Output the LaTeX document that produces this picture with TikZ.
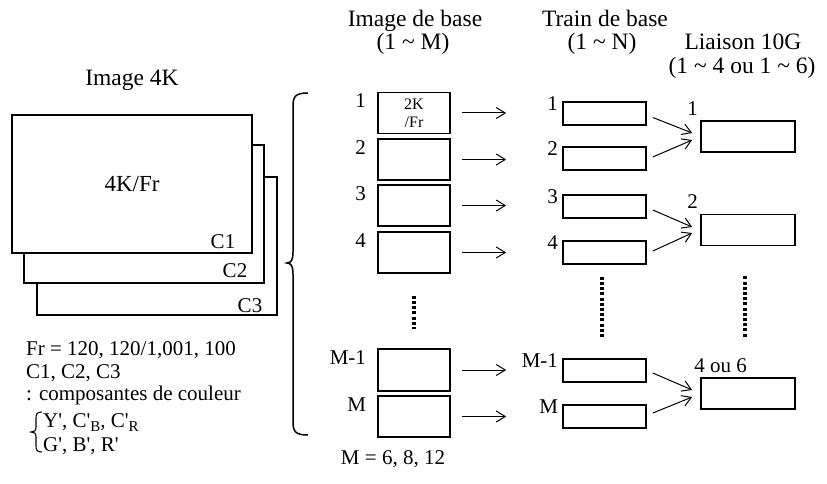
\documentclass[tikz,border=0pt]{standalone}
\usepackage{fontspec}
\setmainfont{Liberation Serif}
\usetikzlibrary{arrows.meta}
\newcommand{\qs}{\textquotesingle}
\newcommand{\subl}[1]{\raisebox{-4.5pt}{\fontsize{15}{15}\selectfont #1}}
\begin{document}
\begin{tikzpicture}[x=1pt,y=-1pt,
  txt/.style={inner sep=0pt, font=\fontsize{21}{24}\selectfont},
  ttl/.style={inner sep=0pt, font=\fontsize{23.5}{26}\selectfont},
  lay/.style={draw, line width=1.5pt, fill=white, minimum width=240pt, minimum height=138pt, inner sep=0pt},
  box/.style={draw, line width=1.7pt, inner sep=0pt},
  abox/.style={box, minimum width=72pt, minimum height=41pt},
  bbox/.style={box, minimum width=83pt, minimum height=23pt},
  cbox/.style={box, minimum width=94pt, minimum height=31pt},
  arr/.style={line width=1pt, -{Straight Barb[length=9pt,width=11pt]}},
  dots/.style={line width=3.3pt, dash pattern=on 3pt off 2.2pt},
]
\useasboundingbox (0,0) rectangle (827,484);

% stacked 4K image layers
\node[lay] (r3) at (157,246) {};
\node[lay] (r2) at (144,214) {};
\node[lay] (r1) at (132,184) {};
\node[ttl, anchor=base] (t4k) at (132,86) {Image 4K};
\node[txt, anchor=base, font=\fontsize{23}{26}\selectfont] (t4kfr) at (132,191) {4K/Fr};
\node[txt, anchor=base] (tc1) at (223,248) {C1};
\node[txt, anchor=base] (tc2) at (235,277) {C2};
\node[txt, anchor=base] (tc3) at (250,312) {C3};

% notes
\node[txt, anchor=base west] (n1) at (26,355) {Fr = 120, 120/1,001, 100};
\node[txt, anchor=base west] (n2) at (26,378) {C1, C2, C3};
\node[txt, anchor=base west] (n3) at (26,400) {: composantes de couleur};
\node[txt, anchor=base west] (n4) at (43,427) {Y\qs, C\qs\subl{B}, C\qs\subl{R}};
\node[txt, anchor=base west] (n5) at (43,451) {G\qs, B\qs, R\qs};
\draw[line width=1.1pt] (42,412) .. controls (37,412) and (36,414) .. (36,418) -- (36,427)
  .. controls (36,431) and (34,432) .. (31,432) .. controls (34,432) and (36,433) .. (36,437)
  -- (36,446) .. controls (36,450) and (37,452) .. (42,452);

% big brace
\draw[line width=1.5pt] (308,93) .. controls (296,93) and (293,96) .. (293,106) -- (293,252)
  .. controls (293,260) and (291,263) .. (287,263) .. controls (291,263) and (293,266) .. (293,274)
  -- (293,422) .. controls (293,432) and (296,435) .. (308,435);

% titles
\node[ttl, anchor=base] (h1a) at (415,27) {Image de base};
\node[ttl, anchor=base] (h1b) at (413,50) {(1 \textasciitilde{} M)};
\node[ttl, anchor=base] (h2a) at (605,27) {Train de base};
\node[ttl, anchor=base] (h2b) at (602,50) {(1 \textasciitilde{} N)};
\node[ttl, anchor=base] (h3a) at (743,50) {Liaison 10G};
\node[ttl, anchor=base] (h3b) at (742,74) {(1 \textasciitilde{} 4 ou 1 \textasciitilde{} 6)};

% column 1: base images
\node[abox, align=center, font=\fontsize{16}{18}\selectfont] (a1) at (414,113) {2K\\/Fr};
\node[abox] (a2) at (414,159.5) {};
\node[abox] (a3) at (414,205.5) {};
\node[abox] (a4) at (414,252.5) {};
\node[abox, minimum height=42pt] (aM1) at (414,370) {};
\node[abox] (aM) at (414,416.5) {};
\foreach \n/\t in {a1/1,a2/2,a3/3,a4/4,aM1/M-1,aM/M}
  \node[txt, anchor=base east] (l\n) at ([shift={(-11,16)}]\n.north west) {\t};
\draw[dots, shorten <=22pt, shorten >=19pt] (a4.south) -- (aM1.north);
\node[txt, anchor=base] (mval) at (393,464) {M = 6, 8, 12};

% column 2: base trains
\node[bbox] (b1) at (604.5,113.5) {};
\node[bbox] (b2) at (604.5,158.5) {};
\node[bbox] (b3) at (604.5,206.5) {};
\node[bbox] (b4) at (604.5,252.5) {};
\node[bbox] (bM1) at (604.5,370.5) {};
\node[bbox] (bM) at (604.5,416.5) {};
\foreach \n/\t in {b1/1,b2/2,b3/3,b4/4,bM1/M-1,bM/M}
  \node[txt, anchor=base east] (l\n) at ([shift={(-4,9.5)}]\n.north west) {\t};
\draw[dots, shorten <=12pt, shorten >=21pt] (b4.south -| 602,0) -- (bM1.north -| 602,0);

% column 3: 10G links
\node[cbox] (c1) at (748,136.5) {};
\node[cbox] (c2) at (748,230) {};
\node[cbox] (c3) at (748,393.5) {};
\node[txt, anchor=base west] (lc1) at ([shift={(-13,-5)}]c1.north west) {1};
\node[txt, anchor=base west] (lc2) at ([shift={(-13,-5)}]c2.north west) {2};
\node[txt, anchor=base west] (lc3) at ([shift={(-6,-5)}]c3.north west) {4 ou 6};
\draw[dots, shorten <=30pt, shorten >=40pt] (c2.south -| 745,0) -- (c3.north -| 745,0);

% arrows column 1 -> column 2
\foreach \i in {1,2,3,4,M1,M}
  \draw[arr, shorten <=11pt, shorten >=56pt] (a\i.east) -- (a\i.east -| b\i.west);

% arrows column 2 -> column 3
\draw[arr] ([shift={(6,4)}]b1.east) -- ([shift={(-8,-3.5)}]c1.west);
\draw[arr] ([shift={(6,-1.5)}]b2.east) -- ([shift={(-8,3.5)}]c1.west);
\draw[arr] ([shift={(6,3.5)}]b3.east) -- ([shift={(-8,-3)}]c2.west);
\draw[arr] ([shift={(6,-1.5)}]b4.east) -- ([shift={(-8,3)}]c2.west);
\draw[arr] ([shift={(6,2.5)}]bM1.east) -- ([shift={(-8,-3.5)}]c3.west);
\draw[arr] ([shift={(6,-3.5)}]bM.east) -- ([shift={(-8,3.5)}]c3.west);
\end{tikzpicture}
\end{document}
